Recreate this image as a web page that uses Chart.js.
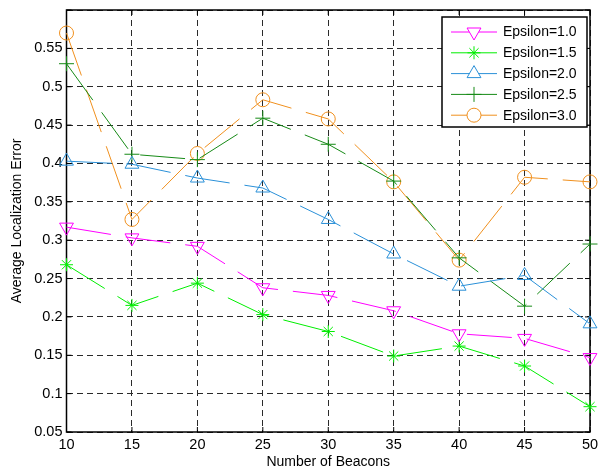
<!DOCTYPE html>
<html>
<head>
<meta charset="utf-8">
<script src="https://cdn.jsdelivr.net/npm/chart.js@4/dist/chart.umd.min.js"></script>
<style>
  html, body { margin: 0; padding: 0; background: #fff; }
  #wrap { width: 599px; height: 472px; position: relative; }
</style>
</head>
<body>
<div id="wrap"><canvas id="myChart"></canvas></div>
<script>
// values
const beacons = [10, 15, 20, 25, 30, 35, 40, 45, 50];
const eps10 = [0.317, 0.303, 0.292, 0.238, 0.228, 0.208, 0.178, 0.172, 0.147];
const eps15 = [0.268, 0.215, 0.244, 0.203, 0.181, 0.149, 0.162, 0.136, 0.083];
const eps20 = [0.403, 0.399, 0.381, 0.368, 0.327, 0.282, 0.240, 0.254, 0.191];
const eps25 = [0.530, 0.412, 0.405, 0.459, 0.425, 0.377, 0.277, 0.214, 0.295];
const eps30 = [0.570, 0.327, 0.413, 0.483, 0.458, 0.376, 0.274, 0.382, 0.376];
const seriesNames = ['Epsilon=1.0', 'Epsilon=1.5', 'Epsilon=2.0', 'Epsilon=2.5', 'Epsilon=3.0'];

const FONT = 'Liberation Sans, Arial, Helvetica, sans-serif';

function makeSet(label, data, color, style, radius, rotation) {
  return {
    label: label,
    data: data,
    borderColor: color,
    backgroundColor: color,
    borderWidth: 1,
    borderDash: [45, 15],
    pointStyle: style,
    pointRotation: rotation || 0,
    pointRadius: radius,
    pointBorderColor: color,
    pointBackgroundColor: 'rgba(0,0,0,0)',
    pointBorderWidth: 1,
    tension: 0,
    clip: false
  };
}

// box, inward ticks and the MATLAB style legend
const framePlugin = {
  id: 'frame',
  beforeDatasetsDraw(chart) {
    const {ctx, chartArea: a, scales} = chart;
    ctx.save();
    ctx.strokeStyle = '#000';
    ctx.lineWidth = 1;
    const tl = 5;
    scales.x.ticks.forEach((t, i) => {
      const px = scales.x.getPixelForTick(i);
      ctx.beginPath();
      ctx.moveTo(px, a.bottom); ctx.lineTo(px, a.bottom - tl);
      ctx.moveTo(px, a.top); ctx.lineTo(px, a.top + tl);
      ctx.stroke();
    });
    scales.y.ticks.forEach((t) => {
      const py = scales.y.getPixelForValue(t.value);
      ctx.beginPath();
      ctx.moveTo(a.left, py); ctx.lineTo(a.left + tl, py);
      ctx.moveTo(a.right, py); ctx.lineTo(a.right - tl, py);
      ctx.stroke();
    });
    ctx.lineWidth = 1.5;
    ctx.strokeRect(a.left, a.top, a.right - a.left, a.bottom - a.top);
    ctx.restore();
  },
  afterDraw(chart) {
    const {ctx} = chart;
    const box = {x: 442, y: 17, w: 145, h: 110};
    ctx.save();
    ctx.fillStyle = '#fff';
    ctx.fillRect(box.x, box.y, box.w, box.h);
    ctx.strokeStyle = '#000';
    ctx.lineWidth = 1.5;
    ctx.strokeRect(box.x, box.y, box.w, box.h);
    ctx.font = '14px ' + FONT;
    ctx.textBaseline = 'middle';
    chart.data.datasets.forEach((ds, i) => {
      const y = box.y + 15 + i * 20.8;
      ctx.strokeStyle = ds.borderColor;
      ctx.lineWidth = 1;
      ctx.setLineDash([]);
      ctx.beginPath();
      ctx.moveTo(451, y); ctx.lineTo(497, y);
      ctx.stroke();
      ctx.fillStyle = '#fff';
      Chart.helpers.drawPoint(ctx, {
        pointStyle: ds.pointStyle,
        rotation: ds.pointRotation,
        radius: ds.pointRadius,
        borderWidth: 1
      }, 474, y);
      ctx.fillStyle = '#000';
      ctx.fillText(ds.label, 503, y + 0.5);
    });
    ctx.restore();
  }
};

function initChart(target) {
  const data = {
    labels: beacons,
    datasets: [
      makeSet(seriesNames[0], eps10, '#ff00ff', 'triangle', 8, 180),
      makeSet(seriesNames[1], eps15, '#00ee00', 'star', 6.5),
      makeSet(seriesNames[2], eps20, '#2a90d8', 'triangle', 8),
      makeSet(seriesNames[3], eps25, '#168a16', 'cross', 7.5),
      makeSet(seriesNames[4], eps30, '#f0901e', 'circle', 7)
    ]
  };

  const config = {
    type: 'line',
    data: data,
    plugins: [framePlugin],
    options: {
      responsive: false,
      animation: false,
      devicePixelRatio: 1,
      layout: {padding: {top: 10, right: 5, left: 0, bottom: 0}},
      plugins: {legend: {display: false}, tooltip: {enabled: false}},
      scales: {
        x: {
          type: 'category',
          offset: false,
          grid: {color: '#2a2a2a', lineWidth: 1, drawTicks: false, offset: false},
          border: {display: false, dash: [6, 4]},
          ticks: {color: '#000', padding: 4, font: {family: FONT, size: 14.5}, maxRotation: 0, autoSkip: false},
          title: {display: true, text: 'Number of Beacons', color: '#000', font: {family: FONT, size: 14}, padding: {top: 0, bottom: 1.5}},
          afterFit(scale) {
            scale.height = 40;
            scale.paddingLeft = 0;
            scale.paddingRight = 0;
          }
        },
        y: {
          min: 0.05,
          max: 0.6,
          grid: {color: '#2a2a2a', lineWidth: 1, drawTicks: false},
          border: {display: false, dash: [6, 4]},
          ticks: {
            color: '#000',
            padding: 4,
            stepSize: 0.05,
            font: {family: FONT, size: 14.5},
            callback: (v) => (v > 0.575 ? '' : String(Number(v.toFixed(2))))
          },
          title: {display: true, text: 'Average Localization Error', color: '#000', font: {family: FONT, size: 14}, padding: {top: 8.5, bottom: 0}},
          afterFit(scale) {
            scale.width = 66.5;
            scale.paddingTop = 0;
            scale.paddingBottom = 0;
          }
        }
      }
    }
  };

  return new Chart(target, config);
}

const canvas = document.querySelector('#myChart');
canvas.width = 599;
canvas.height = 472;
initChart(canvas);
</script>
</body>
</html>
